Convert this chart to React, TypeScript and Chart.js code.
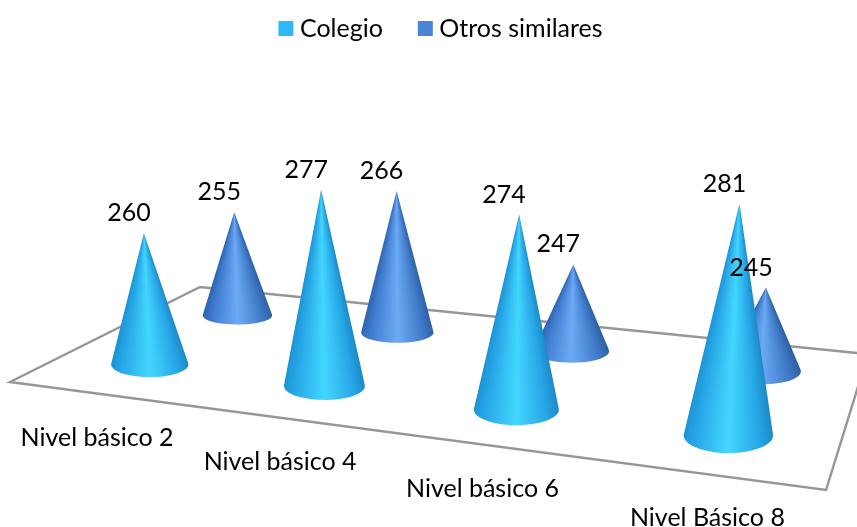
import React, { useEffect, useRef } from "react";
import { Chart, registerables } from "chart.js";

Chart.register(...registerables);

const categories = ["Nivel básico 2", "Nivel básico 4", "Nivel básico 6", "Nivel Básico 8"];
const seriesNames = ["Colegio", "Otros similares"];
const colegio = [260, 277, 274, 281];
const otros = [255, 266, 247, 245];

const FONT = "Lato";
const SWATCH = ["#2DB9FA", "#4A84D6"];
// colour across a cone, left edge to right edge
const RAMP_POS = [0, 0.14, 0.5, 0.84, 1];
const RAMPS = [
  ["#1C92D2", "#27A6E6", "#43D6FF", "#27A6E6", "#1C88C6"],
  ["#2F62AE", "#3F7CCE", "#6CAAF6", "#3F7BC8", "#2E5FA4"],
];
const DEPTH = [0.25, 0.75];
const FLOOR_TOP = 220;

// floor perspective: unit square onto the picture
const H = { a: 662, b: 236.7, c: 10, d: 16.6, e: -28, f: 382, g: -0.1865, h: 0.2333 };
const project = (u: number, v: number) => {
  const w = H.g * u + H.h * v + 1;
  return { x: (H.a * u + H.b * v + H.c) / w, y: (H.d * u + H.e * v + H.f) / w, w };
};

function drawCone(ctx: CanvasRenderingContext2D, cx: number, cy: number, rx: number, ry: number, h: number, ramp: string[]) {
  const ax = cx + h * (cx - 430) * 0.00016;
  const ay = cy - h;
  const dx = cx - ax;
  const dy = cy - ay;
  const s = Math.asin(Math.min(0.99, ry / dy));
  const xt = rx * Math.cos(s);
  const yt = cy - ry * Math.sin(s);
  const mid = Math.atan2(dy, dx);
  const halfA = Math.atan2(xt, dy) * 1.02;
  const grad = ctx.createConicGradient(0, ax, ay);
  const tRight = (mid - halfA) / (2 * Math.PI);
  const tLeft = (mid + halfA) / (2 * Math.PI);
  // conic angle grows clockwise, so right edge comes first
  for (let i = RAMP_POS.length - 1; i >= 0; i--) {
    grad.addColorStop(tLeft + (tRight - tLeft) * RAMP_POS[i], ramp[i]);
  }
  ctx.beginPath();
  ctx.moveTo(ax, ay);
  ctx.lineTo(cx + xt, yt);
  ctx.ellipse(cx, cy, rx, ry, 0, -s, Math.PI + s, false);
  ctx.closePath();
  ctx.fillStyle = grad;
  ctx.fill();
}

const conePlugin = {
  id: "cones",
  beforeDatasetsDraw(chart: any) {
    const { ctx, scales, chartArea } = chart;
    const xs = scales.x;
    const ys = scales.y;
    const uOf = (i: number) => (xs.getPixelForTick(i) - chartArea.left) / chartArea.width + 0.0045;
    const zero = ys.getPixelForValue(FLOOR_TOP);

    ctx.save();
    ctx.beginPath();
    ctx.rect(0, 0, chart.width, chart.height);
    ctx.clip();
    // floor
    ctx.beginPath();
    [[0, 0], [1, 0], [1, 1], [0, 1]].forEach(([u, v], i) => {
      const p = project(u, v);
      if (i) ctx.lineTo(p.x, p.y);
      else ctx.moveTo(p.x, p.y);
    });
    ctx.closePath();
    ctx.lineWidth = 2.4;
    ctx.strokeStyle = "#969696";
    ctx.lineJoin = "miter";
    ctx.stroke();

    const tips: { x: number; y: number; t: string }[] = [];
    // back row first
    for (let s = chart.data.datasets.length - 1; s >= 0; s--) {
      chart.data.datasets[s].data.forEach((val: number, i: number) => {
        const p = project(uOf(i), DEPTH[s]);
        const rx = 40 / p.w;
        const ry = 9 + (p.y - 316) * 0.07;
        const h = (zero - ys.getPixelForValue(val)) / p.w;
        drawCone(ctx, p.x, p.y, rx, ry, h, RAMPS[s]);
        const ax = p.x + h * (p.x - 430) * 0.00016;
        tips.push({ x: ax - 15, y: p.y - h - 20, t: String(val) });
      });
    }
    ctx.fillStyle = "#000";
    ctx.textAlign = "center";
    ctx.textBaseline = "middle";
    ctx.font = `25px ${FONT}`;
    tips.forEach((t) => ctx.fillText(t.t, t.x, t.y));
    categories.forEach((c, i) => {
      const p = project(uOf(i), 0);
      ctx.fillText(c, p.x - 1, p.y + 44);
    });
    ctx.restore();
    return false;
  },
};

export default function App() {
  const ref = useRef<HTMLCanvasElement>(null);
  useEffect(() => {
    const chart = new Chart(ref.current as HTMLCanvasElement, {
      type: "bar",
      data: {
        labels: categories,
        datasets: [
          { label: seriesNames[0], data: colegio, backgroundColor: SWATCH[0] },
          { label: seriesNames[1], data: otros, backgroundColor: SWATCH[1] },
        ],
      },
      options: {
        responsive: false,
        animation: false,
        layout: { padding: { top: -25, left: 30, right: 0, bottom: 0 } },
        scales: {
          x: { display: false },
          y: { display: false, min: FLOOR_TOP, max: 360 },
        },
        plugins: {
          tooltip: { enabled: false },
          legend: {
            position: "top",
            labels: {
              usePointStyle: true,
              pointStyle: "rect",
              boxWidth: 3,
              boxHeight: 15,
              padding: 41,
              color: "#000",
              font: { family: FONT, size: 25 },
            },
          },
        },
      },
      plugins: [conePlugin],
    } as any);
    return () => chart.destroy();
  }, []);
  return (
    <div style={{ position: "absolute", left: 0, top: 0, width: 857, height: 527, background: "#fff" }}>
      <canvas ref={ref} width={857} height={527} style={{ display: "block" }} />
    </div>
  );
}
